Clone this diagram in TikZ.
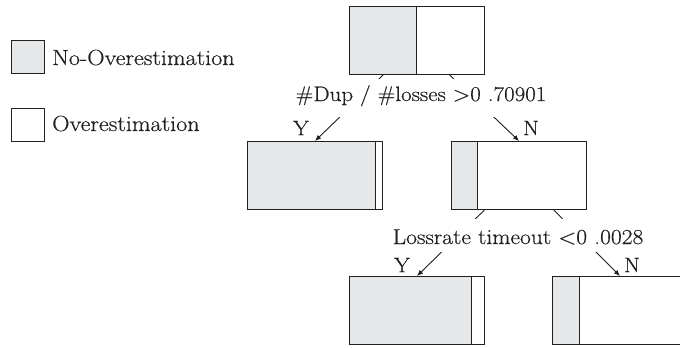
\documentclass[tikz,border=0pt]{standalone}
\usepackage{fontspec}
\setmainfont{Latin Modern Roman}[FakeStretch=1.1, FakeBold=0.4]
\usetikzlibrary{calc,arrows.meta}
\definecolor{ink}{HTML}{231F20}
\definecolor{nogray}{HTML}{E6E7E8}
\tikzset{
  leaf/.style={draw=ink, line width=1.1bp, rectangle, anchor=north west,
    minimum width=135bp, minimum height=68bp, inner sep=0pt, fill=white,
    path picture={
      \fill[nogray] (path picture bounding box.south west) rectangle
        ($(path picture bounding box.north west)!#1!(path picture bounding box.north east)$);
      \draw[ink, line width=1.1bp]
        ($(path picture bounding box.south west)!#1!(path picture bounding box.south east)$) --
        ($(path picture bounding box.north west)!#1!(path picture bounding box.north east)$);
    }},
  key/.style={draw=ink, line width=0.9bp, rectangle, anchor=north west,
    minimum width=33bp, minimum height=33bp, inner sep=0pt},
  edge/.style={draw=ink, line width=0.9bp, -{Latex[length=6bp,width=5bp]}},
  test/.style={fill=white, inner sep=0pt, anchor=base, text=ink,
    font=\fontsize{21}{25}\selectfont},
  yn/.style={text=ink, inner sep=0pt, font=\fontsize{21}{25}\selectfont},
  legendtext/.style={text=ink, inner sep=0pt, anchor=base west,
    font=\fontsize{22}{26}\selectfont},
}
\begin{document}
\begin{tikzpicture}[x=1bp, y=-1bp]
  \clip (0,0) rectangle (680,347);
  \fill[white] (0,0) rectangle (680,347);

  % legend
  \node[key, fill=nogray] (k1) at (11,40) {};
  \node[legendtext] (t1) at (52,65) {No-Overestimation};
  \node[key, fill=white] (k2) at (11,108) {};
  \node[legendtext] (t2) at (52,131) {Overestimation};

  % tree boxes
  \node[leaf=0.496] (root) at (349,6) {};
  \node[leaf=0.949] (ly)   at (247,141) {};
  \node[leaf=0.193] (ln)   at (451,141) {};
  \node[leaf=0.904] (ry)   at (349,276) {};
  \node[leaf=0.2]   (rn)   at (552,276) {};

  % branches
  \draw[edge] ($(root.south west)!0.25!(root.south east)$) -- (ly.north);
  \draw[edge] ($(root.south west)!0.74!(root.south east)$) -- (ln.north);
  \draw[edge] ($(ln.south west)!0.245!(ln.south east)$) -- (ry.north);
  \draw[edge] ($(ln.south west)!0.755!(ln.south east)$) -- (rn.north);

  % split tests
  \node[test, text height=22bp, text depth=16bp] (q1) at (421,101)
    {\#Dup / \#losses >0 .70901};
  \node[test, text height=25bp, text depth=8bp, font=\fontsize{21.5}{25}\selectfont] (q2) at (518,244)
    {Lossrate timeout <0 .0028};

  % branch labels
  \node[yn] (y1) at (301,128) {Y};
  \node[yn] (n1) at (531,128) {N};
  \node[yn] (y2) at (402,265) {Y};
  \node[yn] (n2) at (632,265) {N};
\end{tikzpicture}
\end{document}
